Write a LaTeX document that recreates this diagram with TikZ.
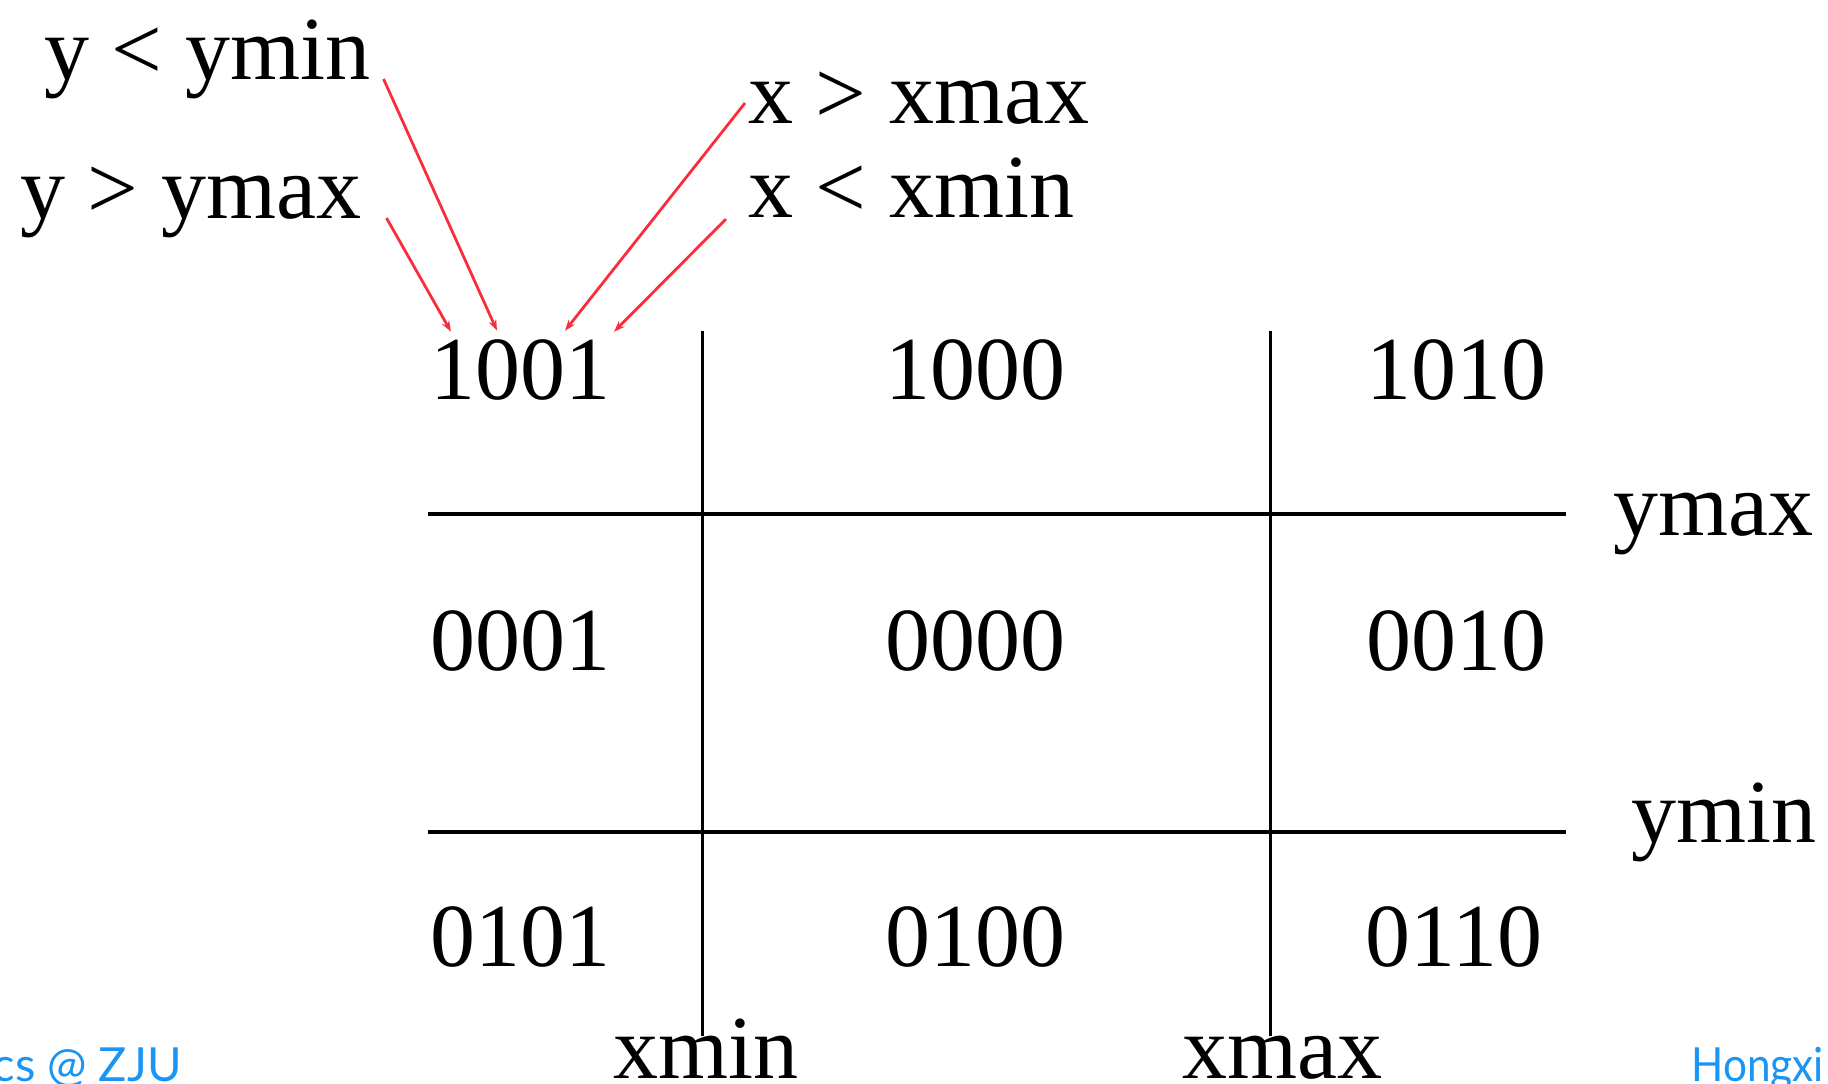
\documentclass[tikz,border=0pt]{standalone}
\usepackage{fontspec}
\setmainfont{Liberation Serif}
\newfontfamily\footfont{Lato}
\usetikzlibrary{arrows.meta,calc}
\definecolor{arrred}{RGB}{250,45,60}
\definecolor{footblue}{RGB}{25,150,245}
\begin{document}
\begin{tikzpicture}[x=0.5pt,y=-0.5pt,
  lbl/.style={inner sep=0pt,font=\fontsize{45pt}{54pt}\selectfont},
  code/.style={inner sep=0pt,anchor=base,font=\fontsize{45pt}{54pt}\selectfont},
  hline/.style={line width=1.75pt},
  vline/.style={line width=1.5pt},
  redarrow/.style={draw=arrred,line width=1.4pt,-{Stealth[length=5.5pt,width=4pt]}},
  foot/.style={inner sep=0pt,text=footblue,font=\footfont\fontsize{23.5pt}{28pt}\selectfont}]
\useasboundingbox (0,0) rectangle (1828,1083);
\clip (0,0) rectangle (1828,1083);
% grid lines
\coordinate (h1a) at (428,514);
\coordinate (h1b) at (1566,514);
\coordinate (h2a) at (428,832);
\coordinate (h2b) at (1566,832);
\coordinate (v1a) at (702,331);
\coordinate (v1b) at (702,1036);
\coordinate (v2a) at (1270,331);
\coordinate (v2b) at (1270,1036);
\draw[hline] (h1a) -- (h1b);
\draw[hline] (h2a) -- (h2b);
\draw[vline] (v1a) -- (v1b);
\draw[vline] (v2a) -- (v2b);
% region codes
\node[code] (c1001) at (520,399) {1001};
\node[code] (c1000) at (975,399) {1000};
\node[code] (c1010) at (1456,399) {1010};
\node[code] (c0001) at (520,670) {0001};
\node[code] (c0000) at (975,670) {0000};
\node[code] (c0010) at (1456,670) {0010};
\node[code] (c0101) at (520,966) {0101};
\node[code] (c0100) at (975,966) {0100};
\node[code] (c0110) at (1454,966) {0110};
% boundary labels
\node[lbl,anchor=base west] (lymax) at (1613,535) {ymax};
\node[lbl,anchor=base west] (lymin) at (1631,842) {ymin};
\node[lbl,anchor=base west] (lxmin) at (613,1078) {xmin};
\node[lbl,anchor=base west] (lxmax) at (1182,1078) {xmax};
% condition labels
\node[lbl,anchor=base west] (ylt) at (44,79) {y < ymin};
\node[lbl,anchor=base west] (ygt) at (20,218) {y > ymax};
\node[lbl,anchor=base west] (xgt) at (748,123) {x > xmax};
\node[lbl,anchor=base west] (xlt) at (748,217) {x < xmin};
% arrows
\draw[redarrow] ($(ylt.base east)+(13,0)$) -- ($(c1001.north)+(-23,-8)$);
\draw[redarrow] ($(ygt.base east)+(25,0)$) -- ($(c1001.north)+(-69,-7)$);
\draw[redarrow] ($(xgt.base west)+(-3,-20)$) -- ($(c1001.north)+(45,-8)$);
\draw[redarrow] ($(xlt.base west)+(-22,2)$) -- ($(c1001.north)+(94,-7)$);
% footer
\node[foot,anchor=base east] (fl) at (182,1081) {cs @ ZJU};
\node[foot,anchor=base west] (fr) at (1691,1081) {\scalebox{0.9}[1]{Hongxi}};
\end{tikzpicture}
\end{document}
